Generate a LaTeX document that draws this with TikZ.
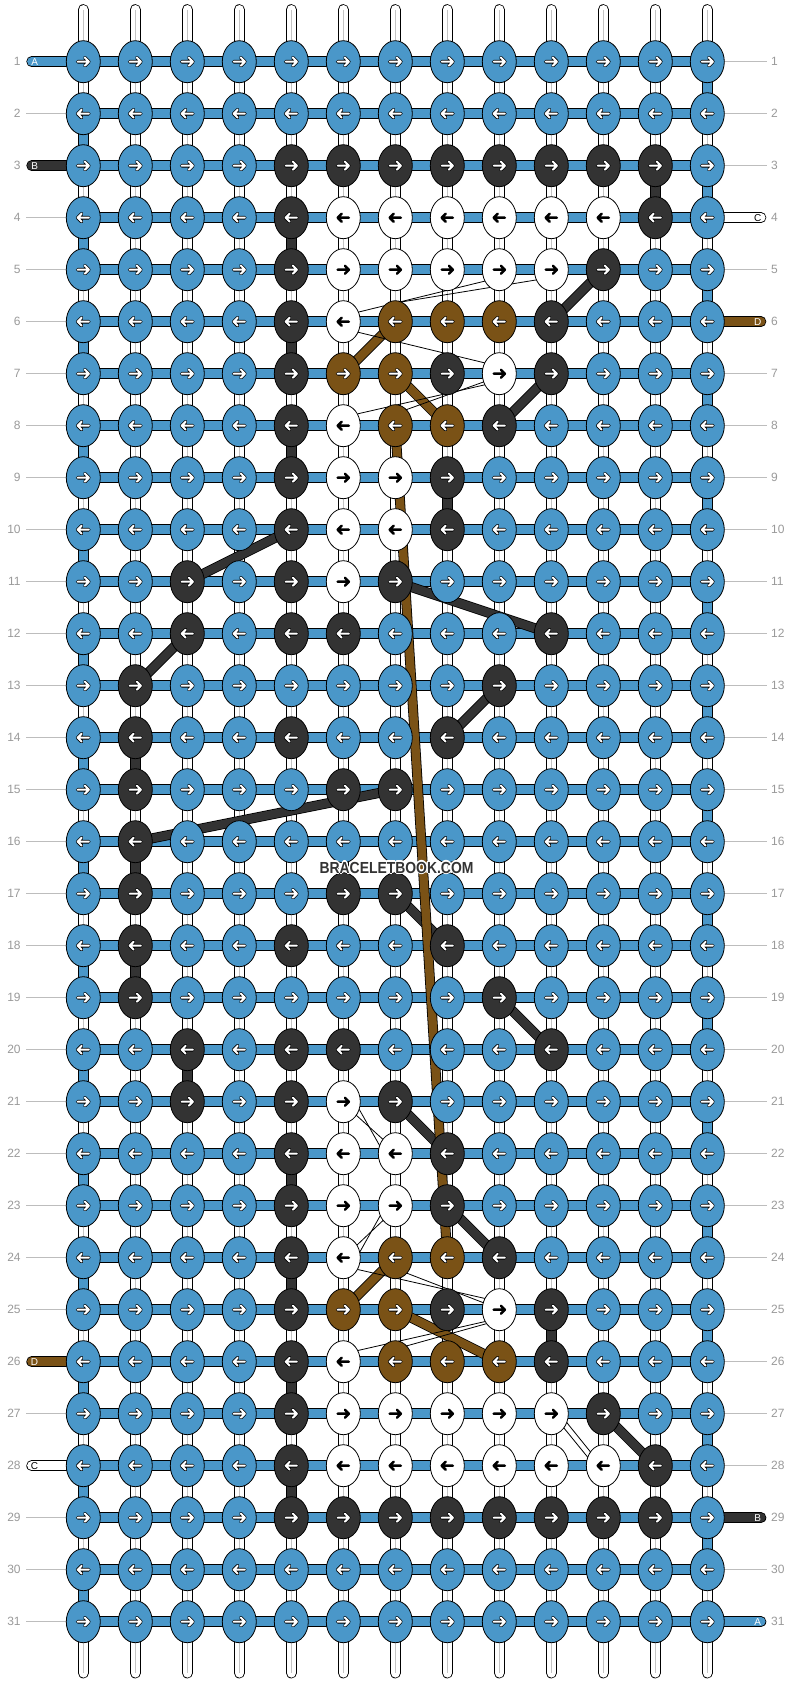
\documentclass[tikz,border=0pt]{standalone}
\usepackage{fontspec}
\setmainfont{Liberation Sans}
\usetikzlibrary{shapes.geometric,calc}
\definecolor{cA}{HTML}{4A97C9}
\definecolor{cB}{HTML}{333333}
\definecolor{cC}{HTML}{FFFFFF}
\definecolor{cD}{HTML}{7A5216}
\definecolor{lblgray}{HTML}{9A9A9A}
\definecolor{guidegray}{HTML}{BDBDBD}
\definecolor{warpgray}{HTML}{C4C4C4}
\pgfdeclarelayer{bg}
\pgfdeclarelayer{mid}
\pgfsetlayers{bg,mid,main}
\newcommand\knotarrow[3]{%
  \edef\kaletter{#3}\def\kaC{C}%
  \ifx\kaletter\kaC
    \draw[black,line width=2.5pt,line cap=round,line join=round,shift={(#1)},xscale=#2]
      (-5.6,0)--(5.6,0) (1.6,-4)--(5.6,0)--(1.6,4);
  \else
    \draw[black,line width=3.6pt,line cap=round,line join=round,shift={(#1)},xscale=#2]
      (-5.6,0)--(5.6,0) (1.6,-4)--(5.6,0)--(1.6,4);
    \draw[white,line width=2.0pt,line cap=round,line join=round,shift={(#1)},xscale=#2]
      (-5.6,0)--(5.6,0) (1.6,-4)--(5.6,0)--(1.6,4);
  \fi}
\begin{document}
\begin{tikzpicture}[x=1pt,y=-1pt,
  knot/.style={ellipse,draw=black,line width=0.8pt,minimum width=34pt,minimum height=42pt,inner sep=0pt},
  warpline/.style={draw=black,line width=0.8pt,double=white,double distance=9.2pt,line cap=round},
  hconn/.style={draw=black,line width=0.8pt,double=cA,double distance=9pt},
  gapseg/.style={draw=black,line width=0.8pt,double=#1,double distance=9pt},
  tailline/.style={draw=black,line width=0.8pt,double=#1,double distance=9pt,line cap=round},
  dline/.style={draw=black,line width=0.8pt,double=cB,double distance=8.4pt},
  bline/.style={draw=black,line width=0.8pt,double=cD,double distance=8.4pt},
  wline/.style={draw=black,line width=0.8pt,shorten <=-2pt,shorten >=-2pt},
  guide/.style={draw=guidegray,line width=1pt},
  rowlbl/.style={text=lblgray,inner sep=0pt,font=\fontsize{12}{12}\selectfont},
  taillbl/.style={inner sep=0pt,font=\fontsize{10}{10}\selectfont},
  wmark/.style={inner sep=0pt,font=\fontsize{16}{16}\selectfont\bfseries}
]
\useasboundingbox (0,0) rectangle (792,1684);
% knots
\foreach \rowlist [count=\r] in {
 {A,A,A,A,A,A,A,A,A,A,A,A,A},
 {A,A,A,A,A,A,A,A,A,A,A,A,A},
 {A,A,A,A,B,B,B,B,B,B,B,B,A},
 {A,A,A,A,B,C,C,C,C,C,C,B,A},
 {A,A,A,A,B,C,C,C,C,C,B,A,A},
 {A,A,A,A,B,C,D,D,D,B,A,A,A},
 {A,A,A,A,B,D,D,B,C,B,A,A,A},
 {A,A,A,A,B,C,D,D,B,A,A,A,A},
 {A,A,A,A,B,C,C,B,A,A,A,A,A},
 {A,A,A,A,B,C,C,B,A,A,A,A,A},
 {A,A,B,A,B,C,B,A,A,A,A,A,A},
 {A,A,B,A,B,B,A,A,A,B,A,A,A},
 {A,B,A,A,A,A,A,A,B,A,A,A,A},
 {A,B,A,A,B,A,A,B,A,A,A,A,A},
 {A,B,A,A,A,B,B,A,A,A,A,A,A},
 {A,B,A,A,A,A,A,A,A,A,A,A,A},
 {A,B,A,A,A,B,B,A,A,A,A,A,A},
 {A,B,A,A,B,A,A,B,A,A,A,A,A},
 {A,B,A,A,A,A,A,A,B,A,A,A,A},
 {A,A,B,A,B,B,A,A,A,B,A,A,A},
 {A,A,B,A,B,C,B,A,A,A,A,A,A},
 {A,A,A,A,B,C,C,B,A,A,A,A,A},
 {A,A,A,A,B,C,C,B,A,A,A,A,A},
 {A,A,A,A,B,C,D,D,B,A,A,A,A},
 {A,A,A,A,B,D,D,B,C,B,A,A,A},
 {A,A,A,A,B,C,D,D,D,B,A,A,A},
 {A,A,A,A,B,C,C,C,C,C,B,A,A},
 {A,A,A,A,B,C,C,C,C,C,C,B,A},
 {A,A,A,A,B,B,B,B,B,B,B,B,A},
 {A,A,A,A,A,A,A,A,A,A,A,A,A},
 {A,A,A,A,A,A,A,A,A,A,A,A,A}}{
  \pgfmathsetmacro\yy{61.7+(\r-1)*52}
  \pgfmathsetmacro\dir{ifthenelse(isodd(\r),1,-1)}
  \foreach \k [count=\c] in \rowlist {
    \pgfmathsetmacro\xx{83.3+(\c-1)*52}
    \node[knot,fill=c\k] (k\r-\c) at (\xx,\yy) {};
    \knotarrow{\xx,\yy}{\dir}{\k}
  }
}
% watermark
\foreach \a in {0,45,...,315}
  \node[wmark,text=white] at ($(396.5,867.5)+(\a:1.3)$) {\scalebox{0.87}[1]{BRACELETBOOK.COM}};
\node[wmark,text=cB] (wm) at (396.5,867.5) {\scalebox{0.87}[1]{BRACELETBOOK.COM}};

\begin{pgfonlayer}{bg}
\fill[white] (0,0) rectangle (792,1684);
% warp strings
\foreach \c in {1,...,13} {
  \coordinate (wt\c) at (83.3+\c*52-52,9.6);
  \coordinate (wb\c) at (83.3+\c*52-52,1673);
  \draw[warpline] (wt\c) -- (wb\c);
  \draw[warpgray,line width=0.9pt] (wt\c) -- (wb\c);
}
% horizontal connectors
\foreach \r in {1,...,31} \draw[hconn] (k\r-1.center) -- (k\r-13.center);
% turns
\foreach \r in {2,4,...,30} {
  \pgfmathtruncatemacro\rn{\r+1}
  \draw[gapseg=cA] (k\r-1.center) -- (k\rn-1.center);
}
\foreach \r in {1,3,...,29} {
  \pgfmathtruncatemacro\rn{\r+1}
  \draw[gapseg=cA] (k\r-13.center) -- (k\rn-13.center);
}
% coloured vertical segments
\foreach \c/\r/\col in {12/3/cB,5/4/cB,5/6/cB,5/8/cB,8/9/cB,2/14/cB,2/16/cB,2/18/cB,3/20/cB,5/22/cB,5/24/cB,10/25/cB,5/26/cB,5/28/cB} {
  \pgfmathtruncatemacro\rn{\r+1}
  \draw[gapseg=\col] (k\r-\c.center) -- (k\rn-\c.center);
}
% left tails
\foreach \r/\col/\lt/\tc in {1/cA/A/white,3/cB/B/white,26/cD/D/white,28/cC/C/black} {
  \coordinate (lt\r) at (31.6,61.7+\r*52-52);
  \draw[tailline=\col] (lt\r) -- (k\r-1.center);
  \node[taillbl,text=\tc] at (34.6,61.7+\r*52-52) {\lt};
}
% right tails
\foreach \r/\col/\lt/\tc in {4/cC/C/black,6/cD/D/white,29/cB/B/white,31/cA/A/white} {
  \coordinate (rt\r) at (761,61.7+\r*52-52);
  \draw[tailline=\col] (k\r-13.center) -- (rt\r);
  \node[taillbl,text=\tc] at (757.8,61.7+\r*52-52) {\lt};
}
% guide lines
\foreach \r in {2,4,5,6,7,8,9,10,11,12,13,14,15,16,17,18,19,20,21,22,23,24,25,27,29,30,31} {
  \coordinate (lg\r) at (26,61.7+\r*52-52);
  \draw[guide] (lg\r) -- (k\r-1.center);
}
\foreach \r in {1,2,3,5,7,8,9,10,11,12,13,14,15,16,17,18,19,20,21,22,23,24,25,26,27,28,30} {
  \coordinate (rg\r) at (766.7,61.7+\r*52-52);
  \draw[guide] (k\r-13.center) -- (rg\r);
}
% row numbers
\foreach \r in {1,...,31} {
  \node[rowlbl,anchor=east] at (20.8,61.7+\r*52-52) {\r};
  \node[rowlbl,anchor=west] at (771,61.7+\r*52-52) {\r};
}
\end{pgfonlayer}

\begin{pgfonlayer}{mid}
% dark strings
\foreach \a/\b in {5-11/6-10,7-10/8-9,10-5/11-3,11-7/12-10,12-3/13-2,13-9/14-8,15-7/16-2,17-7/18-8,19-9/20-10,21-7/22-8,23-8/24-9,27-11/28-12}
  \draw[dline] (k\a.center) -- (k\b.center);
% brown strings
\foreach \a/\b in {7-6/6-7,7-7/8-8,8-7/24-8,24-7/25-6,25-7/26-9}
  \draw[bline] (k\a.center) -- (k\b.center);
% thin white strings
\draw[wline] ($(k6-6)+(16.7,-10)$) -- ($(k5-9)+(-12.8,11)$);
\draw[wline] ($(k6-7)+(7.6,-20)$) -- ($(k5-10)+(-15.5,10.3)$);
\draw[wline] ($(k6-6)+(16.7,11)$) -- ($(k7-9)+(-15.3,-11)$);
\draw[wline] ($(k8-6)+(16.7,-12.4)$) -- ($(k7-9)+(-15.3,11.3)$);
\draw[wline] ($(k8-7)+(12,-16.4)$) -- ($(k7-9)+(-15,8)$);
\draw[wline] ($(k21-6)+(16.7,9)$) -- ($(k22-7)+(-16,-8.7)$);
\draw[wline] ($(k21-6)+(13.5,14)$) -- ($(k22-7)+(-12.5,-14.5)$);
\draw[wline] ($(k23-7)+(-14.7,9.3)$) -- ($(k24-6)+(16.7,-6)$);
\draw[wline] ($(k23-7)+(-12,14.5)$) -- ($(k24-6)+(13.5,-12.5)$);
\draw[wline] ($(k24-6)+(16.7,12.3)$) -- ($(k25-9)+(-15,-11.4)$);
\draw[wline] ($(k24-7)+(11.9,15.6)$) -- ($(k25-9)+(-16,-7)$);
\draw[wline] ($(k26-6)+(16.7,-11.7)$) -- ($(k25-9)+(-15,12)$);
\draw[wline] ($(k26-7)+(12,-16)$) -- ($(k25-9)+(-13,14)$);
\draw[wline] ($(k27-10)+(10.2,11.3)$) -- ($(k28-11)+(-16,-9)$);
\draw[wline] ($(k27-10)+(14,7)$) -- ($(k28-11)+(-13,-14)$);
\end{pgfonlayer}
\end{tikzpicture}
\end{document}
